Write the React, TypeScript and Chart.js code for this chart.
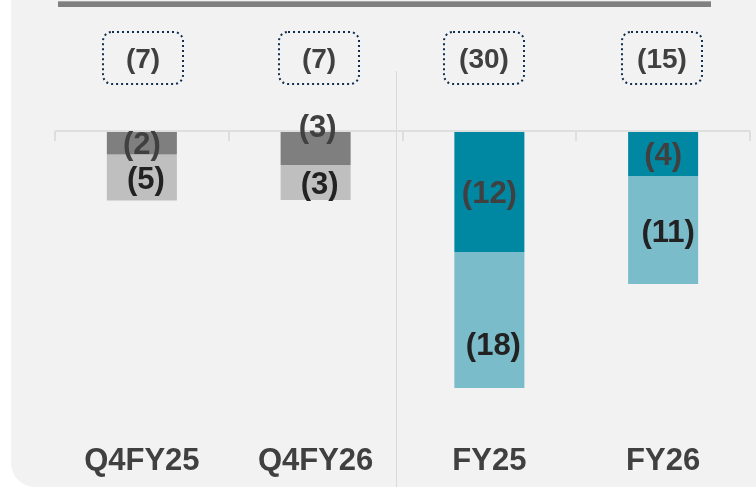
import React, { useEffect, useRef } from "react";
import { Chart, registerables } from "chart.js";

Chart.register(...registerables);

// ---- data ----
const categories = ["Q4FY25", "Q4FY26", "FY25", "FY26"];
// bar segment heights as drawn (units)
const upperSegment = [-2.25, -3.3, -12.0, -4.4];
const lowerSegment = [-4.6, -3.5, -13.6, -10.8];
// printed labels
const upperLabels = ["(2)", "(3)", "(12)", "(4)"];
const lowerLabels = ["(5)", "(3)", "(18)", "(11)"];
const totalLabels = ["(7)", "(7)", "(30)", "(15)"];

// ---- styles ----
const upperColors = ["#7f7f7f", "#7f7f7f", "#0088a3", "#0088a3"];
const lowerColors = ["#bfbfbf", "#bfbfbf", "#7bbcca", "#7bbcca"];
const upperNudgeY = [3, -20, 3, 3];
const lowerNudgeY = [3, 3, 27, 4];
const upperNudgeX = [0, 2, 0, 0];
const lowerNudgeX = [4, 4, 4, 5];
const boxNudgeX = [1, 3, -5, -1];
const FONT = "'Liberation Sans', Arial, sans-serif";

const overlay = {
  id: "overlay",
  beforeDraw(chart: any) {
    const ctx = chart.ctx;
    const W = chart.width;
    const H = chart.height;
    const xs = chart.scales.x;
    const ys = chart.scales.y;
    ctx.save();
    ctx.fillStyle = "#ffffff";
    ctx.fillRect(0, 0, W, H);
    // panel
    const left = 11;
    const r = 24;
    ctx.fillStyle = "#f2f2f2";
    ctx.beginPath();
    ctx.moveTo(left, 0);
    ctx.lineTo(W, 0);
    ctx.lineTo(W, H);
    ctx.lineTo(left + r, H);
    ctx.arcTo(left, H, left, H - r, r);
    ctx.closePath();
    ctx.fill();
    // top rule
    ctx.fillStyle = "#a6a6a6";
    ctx.fillRect(58, 1, 653, 1);
    ctx.fillStyle = "#808080";
    ctx.fillRect(58, 2, 653, 5);
    // separator
    const catW = xs.width / categories.length;
    const sepX = (xs.getPixelForValue(1) + xs.getPixelForValue(2)) / 2 - 7;
    ctx.strokeStyle = "#d9d9d9";
    ctx.lineWidth = 1;
    ctx.beginPath();
    ctx.moveTo(Math.round(sepX) + 0.5, 71);
    ctx.lineTo(Math.round(sepX) + 0.5, H);
    ctx.stroke();
    // baseline + ticks
    const y0 = ys.getPixelForValue(0);
    ctx.strokeStyle = "#dedede";
    ctx.lineWidth = 2;
    ctx.beginPath();
    ctx.moveTo(xs.left, y0 - 1);
    ctx.lineTo(xs.right, y0 - 1);
    for (let i = 0; i <= categories.length; i++) {
      const bx = Math.round(xs.left + i * catW);
      ctx.moveTo(bx, y0 - 1);
      ctx.lineTo(bx, y0 + 9);
    }
    ctx.stroke();
    ctx.restore();
  },
  afterDatasetsDraw(chart: any) {
    const ctx = chart.ctx;
    const xs = chart.scales.x;
    const m0 = chart.getDatasetMeta(0);
    const m1 = chart.getDatasetMeta(1);
    ctx.save();
    ctx.textAlign = "center";
    ctx.textBaseline = "alphabetic";
    // segment labels
    const segFont = 31;
    ctx.font = `bold ${segFont}px ${FONT}`;
    categories.forEach((_, i) => {
      const a = m0.data[i];
      const b = m1.data[i];
      const ca = (a.y + a.base) / 2 + upperNudgeY[i];
      ctx.fillStyle = "#404040";
      ctx.fillText(upperLabels[i], a.x + upperNudgeX[i], ca + 0.26 * segFont);
      const cb = (b.y + b.base) / 2 + lowerNudgeY[i];
      ctx.fillStyle = "#222222";
      ctx.fillText(lowerLabels[i], b.x + lowerNudgeX[i], cb + 0.26 * segFont);
    });
    // total boxes
    const totFont = 28;
    categories.forEach((_, i) => {
      const cx = Math.round(xs.getPixelForValue(i) + boxNudgeX[i]);
      const bw = 80;
      const bx = cx - bw / 2;
      const by = 32;
      const bh = 52;
      ctx.strokeStyle = "#10304f";
      ctx.lineWidth = 2;
      ctx.setLineDash([2, 3]);
      ctx.beginPath();
      ctx.roundRect(bx, by, bw, bh, 9);
      ctx.stroke();
      ctx.setLineDash([]);
      ctx.font = `bold ${totFont}px ${FONT}`;
      ctx.fillStyle = "#404040";
      ctx.fillText(totalLabels[i], cx, 68);
    });
    // category labels
    ctx.font = `bold 31px ${FONT}`;
    ctx.fillStyle = "#404040";
    categories.forEach((c, i) => {
      ctx.fillText(c, xs.getPixelForValue(i), 470);
    });
    ctx.restore();
  },
};

export default function App() {
  const ref = useRef<HTMLCanvasElement | null>(null);
  useEffect(() => {
    if (!ref.current) return;
    const chart = new Chart(ref.current, {
      type: "bar",
      data: {
        labels: categories,
        datasets: [
          {
            label: "upper",
            data: upperSegment,
            backgroundColor: upperColors,
            borderWidth: 0,
            categoryPercentage: 1,
            barPercentage: 0.403,
          },
          {
            label: "lower",
            data: lowerSegment,
            backgroundColor: lowerColors,
            borderWidth: 0,
            categoryPercentage: 1,
            barPercentage: 0.403,
          },
        ],
      },
      options: {
        responsive: false,
        animation: false,
        layout: { padding: { left: 55, right: 6, top: 32, bottom: 55 } },
        plugins: { legend: { display: false }, tooltip: { enabled: false } },
        scales: {
          x: { display: false, stacked: true },
          y: { display: false, stacked: true, min: -30, max: 10 },
        },
      },
      plugins: [overlay],
    });
    return () => chart.destroy();
  }, []);
  return (
    <div style={{ position: "fixed", left: 0, top: 0, width: 756, height: 487 }}>
      <canvas ref={ref} width={756} height={487} />
    </div>
  );
}
